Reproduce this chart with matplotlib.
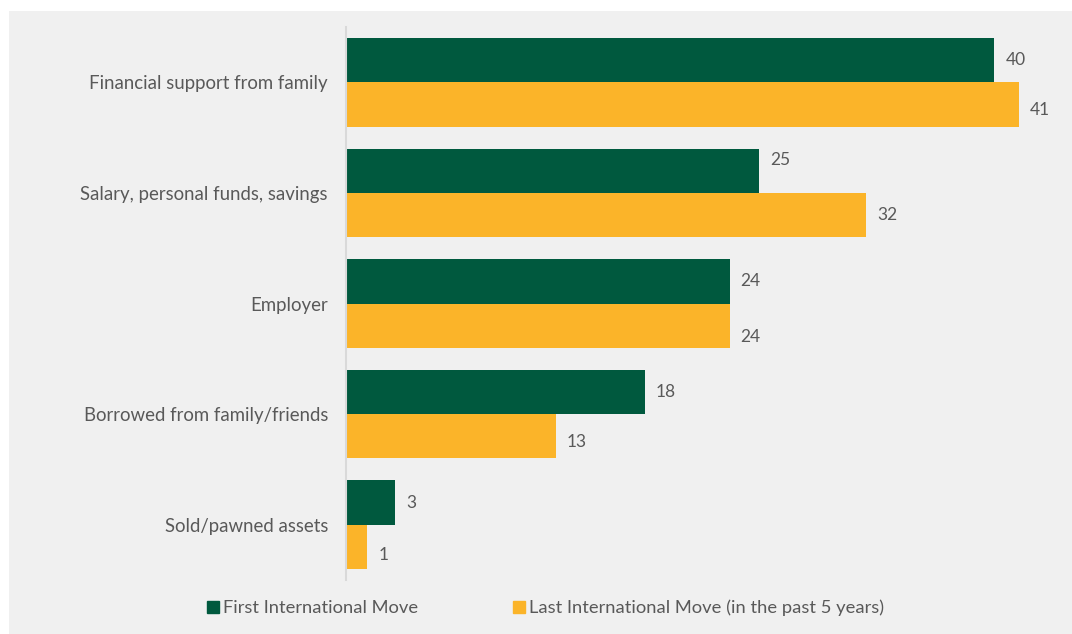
import matplotlib.pyplot as plt
import matplotlib.patches as mp
from matplotlib.lines import Line2D
import numpy as np

categories = ['Financial support from family', 'Salary, personal funds, savings',
              'Employer', 'Borrowed from family/friends', 'Sold/pawned assets']
first_move = [39.9, 25.4, 23.6, 18.4, 3.0]
last_move = [41.4, 32.0, 23.6, 12.9, 1.3]
series_names = ['First International Move', 'Last International Move (in the past 5 years)']

green = '#00593E'
yellow = '#FBB429'
txt = '#595959'
plt.rcParams['font.family'] = ['Lato', 'DejaVu Sans']

W, H = 1072, 634
fig = plt.figure(figsize=(W / 100, H / 100), dpi=100, facecolor='white')
fig.patches.append(mp.Rectangle((9 / W, 0), 1 - 9 / W, 1 - 11 / H, transform=fig.transFigure,
                                facecolor='#F0F0F0', edgecolor='none', zorder=-10))

ax = fig.add_axes([346 / W, 1 - 580 / H, (1045 - 346) / W, (580 - 27) / H])
ax.set_facecolor('none')

y = np.arange(len(categories))
bh = 0.4
ax.barh(y - bh / 2, first_move, height=bh, color=green)
ax.barh(y + bh / 2, last_move, height=bh, color=yellow)

fs = 13.4
# label nudges (px, downward) as the original places them
nudge_first = [0, -11, 0, 0, 0]
nudge_last = [6, 0, 11, 6, 8]
for yy, v, d in zip(y, first_move, nudge_first):
    ax.annotate('%d' % round(v), (v, yy - bh / 2), xytext=(8, -d * 0.72), textcoords='offset points',
                va='center', ha='left', color=txt, fontsize=12.5)
for yy, v, d in zip(y, last_move, nudge_last):
    ax.annotate('%d' % round(v), (v, yy + bh / 2), xytext=(8, -d * 0.72), textcoords='offset points',
                va='center', ha='left', color=txt, fontsize=12.5)

ax.set_ylim(len(categories) - 0.5, -0.5)
ax.set_xlim(0, (1045 - 346) / 16.25)
ax.set_yticks(y)
ax.set_yticklabels(categories, fontsize=fs, color=txt)
ax.tick_params(axis='y', length=0, pad=13)
ax.set_xticks([])
for s in ['top', 'right', 'bottom']:
    ax.spines[s].set_visible(False)
ax.spines['left'].set_color('#D9D9D9')
ax.spines['left'].set_linewidth(1.5)

handles = [Line2D([], [], marker='s', linestyle='none', markersize=8, color=green),
           Line2D([], [], marker='s', linestyle='none', markersize=8, color=yellow)]
fig.legend(handles, series_names, loc='center', bbox_to_anchor=(546 / W, 1 - 608 / H),
           ncol=2, frameon=False, fontsize=13.2, labelcolor=txt, handlelength=0.6,
           handletextpad=0.25, columnspacing=5.2)

fig.savefig('out.png', dpi=100, facecolor='white')
